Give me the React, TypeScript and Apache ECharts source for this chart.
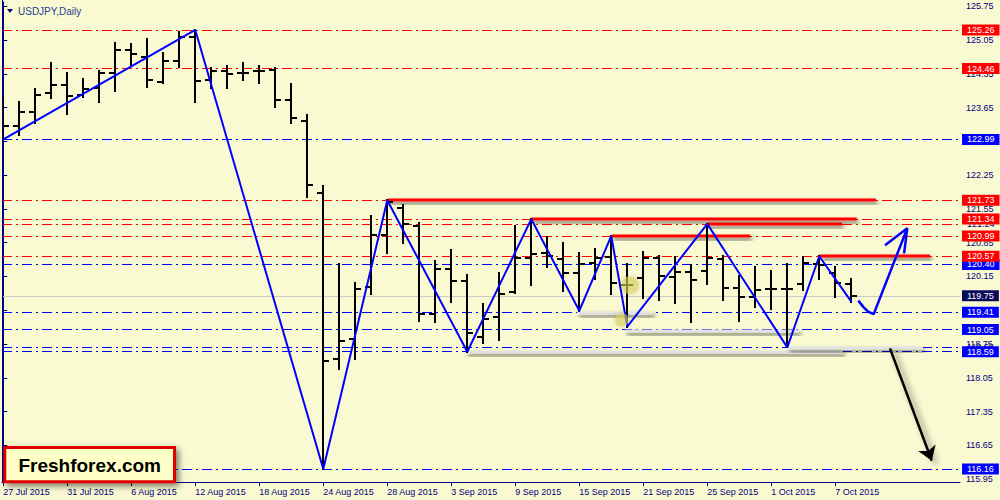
import React, { useEffect, useRef } from "react";
import * as echarts from "echarts";

// ---------- data ----------
const dates = [
  "27 Jul 2015", "28 Jul 2015", "29 Jul 2015", "30 Jul 2015", "31 Jul 2015",
  "3 Aug 2015", "4 Aug 2015", "5 Aug 2015", "6 Aug 2015", "7 Aug 2015",
  "10 Aug 2015", "11 Aug 2015", "12 Aug 2015", "13 Aug 2015", "14 Aug 2015",
  "17 Aug 2015", "18 Aug 2015", "19 Aug 2015", "20 Aug 2015", "21 Aug 2015",
  "24 Aug 2015", "25 Aug 2015", "26 Aug 2015", "27 Aug 2015", "28 Aug 2015",
  "31 Aug 2015", "1 Sep 2015", "2 Sep 2015", "3 Sep 2015", "4 Sep 2015",
  "7 Sep 2015", "8 Sep 2015", "9 Sep 2015", "10 Sep 2015", "11 Sep 2015",
  "14 Sep 2015", "15 Sep 2015", "16 Sep 2015", "17 Sep 2015", "18 Sep 2015",
  "21 Sep 2015", "22 Sep 2015", "23 Sep 2015", "24 Sep 2015", "25 Sep 2015",
  "28 Sep 2015", "29 Sep 2015", "30 Sep 2015", "1 Oct 2015", "2 Oct 2015",
  "5 Oct 2015", "6 Oct 2015", "7 Oct 2015", "8 Oct 2015",
];

const opens = [
  123.80, 123.26, 123.57, 123.96, 124.12, 123.91, 124.05, 124.37, 124.85, 124.71,
  124.19, 124.62, 125.12, 124.22, 124.41, 124.37, 124.41, 124.43, 123.81, 123.38,
  121.89, 118.43, 118.85, 119.94, 121.00, 121.58, 121.20, 119.37, 120.30, 120.06,
  118.90, 119.30, 119.82, 120.53, 120.63, 120.51, 120.22, 120.44, 120.56, 119.97,
  120.11, 120.54, 120.13, 120.25, 120.27, 120.51, 119.92, 119.73, 119.90, 119.90,
  120.00, 120.41, 120.22, 120.00,
];
const highs = [
  123.83, 123.77, 124.03, 124.58, 124.37, 124.24, 124.40, 125.00, 124.96, 125.07,
  124.78, 125.21, 125.26, 124.47, 124.52, 124.57, 124.51, 124.47, 124.15, 123.50,
  122.03, 120.40, 120.02, 121.40, 121.73, 121.63, 121.25, 120.47, 120.70, 120.18,
  119.58, 120.22, 121.20, 121.34, 120.96, 120.84, 120.63, 120.71, 120.99, 120.41,
  120.66, 120.58, 120.56, 120.39, 121.24, 120.58, 120.16, 120.34, 120.26, 120.41,
  120.56, 120.57, 120.34, 120.09,
];
const lows = [
  122.99, 123.08, 123.33, 123.86, 123.51, 123.88, 123.77, 124.00, 124.51, 124.08,
  124.17, 124.50, 123.77, 124.05, 124.05, 124.22, 124.17, 123.67, 123.33, 121.80,
  116.16, 118.23, 118.45, 119.78, 120.63, 120.85, 119.23, 119.21, 119.63, 118.59,
  118.78, 118.83, 119.80, 119.97, 120.34, 119.84, 119.44, 120.09, 119.78, 119.11,
  119.70, 119.66, 119.61, 119.21, 120.00, 119.66, 119.23, 119.52, 119.47, 118.68,
  119.87, 120.09, 119.73, 119.63,
];
const closes = [
  123.26, 123.55, 123.91, 124.12, 123.89, 124.03, 124.37, 124.85, 124.76, 124.22,
  124.62, 125.12, 124.21, 124.41, 124.35, 124.37, 124.41, 123.81, 123.43, 122.05,
  118.40, 118.82, 119.90, 121.01, 121.70, 121.23, 119.37, 120.30, 120.06, 118.98,
  119.26, 119.79, 120.53, 120.61, 120.58, 120.23, 120.41, 120.54, 120.02, 119.97,
  120.54, 120.15, 120.25, 120.08, 120.54, 119.92, 119.73, 119.86, 119.90, 119.90,
  120.44, 120.38, 120.01, 119.75,
];

const xTickIndex = [0, 4, 8, 12, 16, 20, 24, 28, 32, 36, 40, 44, 48, 52];
const yTicks = [
  115.95, 116.65, 117.35, 118.05, 118.75, 119.45, 120.15, 120.85,
  121.55, 122.25, 122.95, 123.65, 124.35, 125.05, 125.75,
];

// horizontal dash-dot levels (order = drawing order)
const blueLevels = [122.99, 120.40, 119.41, 119.05, 118.68, 118.59, 116.16];
const redLevels = [125.26, 124.46, 121.73, 121.24, 121.34, 120.99, 120.57];
const plainLabelLevels = [121.24, 118.68];
const bidPrice = 119.75;

// zigzag (bar index, price)
const zigzagIndex = [0, 12, 20, 24, 29, 33, 36, 38, 39, 44, 49, 51, 53];
const zigzagPrice = [122.99, 125.26, 116.16, 121.73, 118.59, 121.34, 119.44, 120.99, 119.11, 121.24, 118.68, 120.57, 119.63];

// thick level segments: from index, to index, price, kind (0 resistance, 1 support)
const segmentFrom = [35.86, 38.86, 28.92, 49.04, 24.04, 33.0, 43.98, 38.02, 51.0];
const segmentTo = [40.6, 49.73, 52.48, 57.48, 54.54, 53.34, 52.42, 46.67, 57.92];
const segmentPrice = [119.39, 119.03, 118.58, 118.66, 121.73, 121.34, 121.23, 120.99, 120.57];
const segmentKind = [1, 1, 1, 1, 0, 0, 0, 0, 0];

// forecast arrows
const upPathIndex = [53.44, 53.75, 54.05, 54.4, 56.5];
const upPathPrice = [119.65, 119.52, 119.42, 119.37, 121.15];
const upHeadIndex = [55.11, 56.5, 56.3];
const upHeadPrice = [120.8, 121.15, 120.63];
const downIndex = [55.42, 58.03];
const downPrice = [118.66, 116.33];

// yellow highlight marks
const highlightIndex = [39.17, 38.65];
const highlightPrice = [119.97, 119.25];
const highlightSize = [18, 14];

// ---------- styles ----------
const FONT = "'Liberation Sans', Arial, sans-serif";
const NAVY = "#000080";
const DASHDOT = [10, 4, 2, 4];
const SEGMENT_COLORS = ["#FF0000", "#E2E2E2"];

function levelItem(p: number, color: string, tagBg: string) {
  const plain = plainLabelLevels.indexOf(p) >= 0;
  return {
    yAxis: p,
    lineStyle: { color, width: 1, type: DASHDOT },
    label: {
      show: true,
      position: "end",
      distance: 2,
      formatter: p.toFixed(2),
      color: plain ? NAVY : "#ffffff",
      backgroundColor: plain ? "transparent" : tagBg,
      padding: [1, 5, 0, 5],
      fontSize: 9,
      lineHeight: 10,
      fontFamily: FONT,
    },
  };
}

export default function App() {
  const ref = useRef<HTMLDivElement>(null);

  useEffect(() => {
    if (!ref.current) return;
    const chart = echarts.init(ref.current, undefined, { renderer: "svg" });

    const ohlc = dates.map((_, i) => [i, opens[i], highs[i], lows[i], closes[i]]);
    const segments = segmentFrom.map((a, i) => [a, segmentTo[i], segmentPrice[i], segmentKind[i]]);

    const option: any = {
      animation: false,
      backgroundColor: "#FAFAD2",
      grid: { left: 2, right: 40, top: 2, bottom: 18 },
      xAxis: {
        type: "value",
        min: -0.08,
        max: 59.795,
        splitLine: { show: false },
        axisLine: { show: true, onZero: false, lineStyle: { color: NAVY, width: 1 } },
        axisTick: { show: true, customValues: xTickIndex, length: 4, lineStyle: { color: NAVY } },
        axisLabel: {
          customValues: xTickIndex,
          formatter: (v: number) => dates[Math.round(v)] || "",
          align: "left",
          color: NAVY,
          fontSize: 9,
          fontFamily: FONT,
          margin: 5,
        },
      },
      yAxis: {
        type: "value",
        position: "right",
        min: 115.89,
        max: 125.84,
        splitLine: { show: false },
        axisLine: { show: true, lineStyle: { color: NAVY, width: 1 } },
        axisTick: { show: true, customValues: yTicks, length: 4, lineStyle: { color: NAVY } },
        axisLabel: {
          customValues: yTicks,
          formatter: (v: number) => v.toFixed(2),
          color: NAVY,
          fontSize: 9,
          fontFamily: FONT,
          margin: 6,
        },
      },
      series: [
        {
          type: "line",
          data: [],
          silent: true,
          z: 3,
          markLine: {
            silent: true,
            symbol: "none",
            animation: false,
            data: [
              ...blueLevels.map((p) => levelItem(p, "#0000FF", "#0000FF")),
              ...redLevels.map((p) => levelItem(p, "#FF0000", "#FF0000")),
              {
                yAxis: bidPrice,
                lineStyle: { color: "#C8C8C8", width: 1, type: "solid" },
                label: {
                  show: true,
                  position: "end",
                  distance: 2,
                  formatter: bidPrice.toFixed(2),
                  color: "#ffffff",
                  backgroundColor: "#0A0A5C",
                  padding: [1, 5, 0, 5],
                  fontSize: 9,
                  lineHeight: 10,
                  fontFamily: FONT,
                },
              },
            ],
          },
        },
        {
          type: "custom",
          z: 8,
          clip: true,
          silent: true,
          encode: { x: [0, 1], y: 2 },
          data: segments,
          renderItem: (params: any, api: any) => {
            const p = api.value(2);
            const a = api.coord([api.value(0), p]);
            const b = api.coord([api.value(1), p]);
            const kind = api.value(3);
            return {
              type: "rect",
              shape: { x: a[0], y: Math.round(a[1]) - 1.5, width: b[0] - a[0], height: 3 },
              style: {
                fill: SEGMENT_COLORS[kind],
                shadowColor: "rgba(0,0,0,0.6)",
                shadowBlur: 4,
                shadowOffsetX: 2,
                shadowOffsetY: 3,
              },
            };
          },
        },
        {
          type: "custom",
          z: 10,
          clip: true,
          silent: true,
          encode: { x: 0, y: [1, 2, 3, 4] },
          data: ohlc,
          renderItem: (params: any, api: any) => {
            const i = api.value(0);
            const o = api.coord([i, api.value(1)]);
            const h = api.coord([i, api.value(2)]);
            const l = api.coord([i, api.value(3)]);
            const c = api.coord([i, api.value(4)]);
            const x = Math.round(h[0]);
            const st = { stroke: "#000000", lineWidth: 2 };
            return {
              type: "group",
              children: [
                { type: "line", shape: { x1: x, y1: Math.round(h[1]) - 1, x2: x, y2: Math.round(l[1]) + 1 }, style: st },
                { type: "line", shape: { x1: x - 6, y1: Math.round(o[1]), x2: x, y2: Math.round(o[1]) }, style: st },
                { type: "line", shape: { x1: x, y1: Math.round(c[1]), x2: x + 6, y2: Math.round(c[1]) }, style: st },
              ],
            };
          },
        },
        {
          type: "line",
          z: 11,
          silent: true,
          symbol: "none",
          data: zigzagIndex.map((x, i) => [x, zigzagPrice[i]]),
          lineStyle: { color: "#0000FF", width: 2 },
        },
        {
          type: "line",
          z: 12,
          silent: true,
          symbol: "none",
          data: upPathIndex.map((x, i) => [x, upPathPrice[i]]),
          lineStyle: { color: "#0000FF", width: 2.5 },
        },
        {
          type: "line",
          z: 12,
          silent: true,
          symbol: "none",
          data: upHeadIndex.map((x, i) => [x, upHeadPrice[i]]),
          lineStyle: { color: "#0000FF", width: 2.5 },
        },
        {
          type: "lines",
          coordinateSystem: "cartesian2d",
          z: 12,
          silent: true,
          symbol: ["none", "arrow"],
          symbolSize: 14,
          data: [{ coords: downIndex.map((x, i) => [x, downPrice[i]]) }],
          lineStyle: {
            color: "#000000",
            width: 2.5,
            opacity: 1,
            shadowColor: "rgba(0,0,0,0.55)",
            shadowBlur: 6,
            shadowOffsetX: 4,
            shadowOffsetY: 3,
          },
        },
        {
          type: "scatter",
          z: 13,
          silent: true,
          data: highlightIndex.map((x, i) => ({
            value: [x, highlightPrice[i]],
            symbolSize: highlightSize[i],
          })),
          itemStyle: {
            color: "rgba(222,214,96,0.75)",
            shadowColor: "rgba(0,0,0,0.25)",
            shadowBlur: 4,
          },
        },
      ],
      graphic: [
        {
          type: "line",
          z: 50,
          silent: true,
          shape: { x1: 2.5, y1: 0, x2: 2.5, y2: 482 },
          style: { stroke: NAVY, lineWidth: 1 },
        },
        {
          type: "polygon",
          z: 50,
          silent: true,
          shape: { points: [[7, 9], [13, 9], [10, 13]] },
          style: { fill: NAVY },
        },
        {
          type: "text",
          z: 50,
          silent: true,
          x: 18,
          y: 11,
          style: {
            text: "USDJPY,Daily",
            fill: "#1F3A93",
            fontSize: 10,
            fontFamily: FONT,
            verticalAlign: "middle",
          },
        },
        {
          type: "rect",
          z: 100,
          silent: true,
          shape: { x: 4.8, y: 447.5, width: 169.7, height: 34.3 },
          style: {
            fill: "#FFFFC8",
            stroke: "#E00000",
            lineWidth: 3,
            shadowColor: "rgba(0,0,0,0.5)",
            shadowBlur: 6,
            shadowOffsetX: 3,
            shadowOffsetY: 3,
          },
        },
        {
          type: "text",
          z: 101,
          silent: true,
          x: 89.7,
          y: 465.5,
          style: {
            text: "Freshforex.com",
            fill: "#000000",
            fontSize: 19,
            fontWeight: "bold",
            fontFamily: FONT,
            align: "center",
            verticalAlign: "middle",
          },
        },
      ],
    };

    chart.setOption(option);
    return () => chart.dispose();
  }, []);

  return (
    <div
      ref={ref}
      style={{ position: "fixed", left: 0, top: 0, width: 1000, height: 500 }}
    />
  );
}
